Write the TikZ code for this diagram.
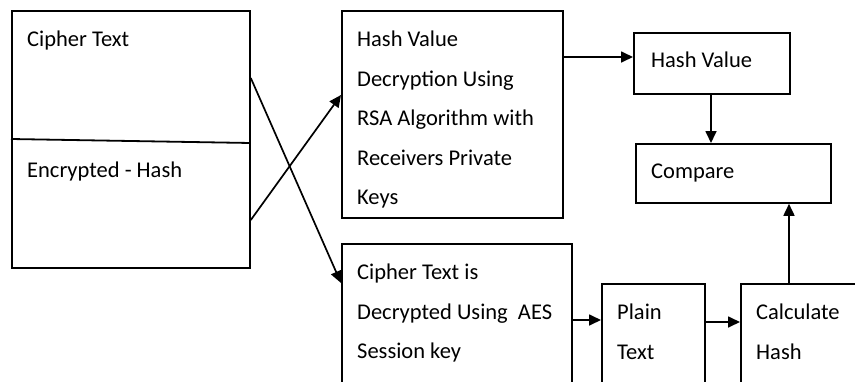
\documentclass[tikz,border=0pt]{standalone}
\usepackage{fontspec}
\setmainfont{Carlito}
\usetikzlibrary{arrows.meta}

\tikzset{
  box/.style={draw, line width=1.8pt, rectangle, anchor=north west, inner sep=0pt},
  lbl/.style={anchor=north west, inner sep=0pt, align=left, font=\fontsize{22.5}{39.5}\selectfont},
  flow/.style={line width=1.7pt, -{Triangle[length=12pt,width=11pt]}}
}

\begin{document}
\begin{tikzpicture}[x=1pt,y=-1pt]
  \useasboundingbox (0,0) rectangle (855,381);
  \clip (0,0) rectangle (855,381);

  \node[box, minimum width=238pt, minimum height=257pt] (pkg) at (11,10) {};
  \node[box, minimum width=221pt, minimum height=207pt] (rsa) at (341,10) {};
  \node[box, minimum width=156pt, minimum height=61pt] (hval) at (633,32) {};
  \node[box, minimum width=195pt, minimum height=59pt] (cmp) at (635,143) {};
  \node[box, minimum width=230pt, minimum height=170pt] (aes) at (341,243) {};
  \node[box, minimum width=103pt, minimum height=130pt] (plain) at (601,283) {};
  \node[box, minimum width=140pt, minimum height=130pt] (calc) at (740,283) {};

  \draw[line width=1.8pt] ([yshift=-129pt]pkg.north west) -- ([yshift=-133pt]pkg.north east);

  \node[lbl] (ctxt) at ([shift={(16,21)}]pkg.north west) {Cipher Text};
  \node[lbl] (ehash) at ([shift={(16,152)}]pkg.north west) {Encrypted - Hash};
  \node[lbl] (rsatxt) at ([shift={(16,21)}]rsa.north west) {Hash Value\\Decryption Using\\RSA Algorithm with\\Receivers Private\\Keys};
  \node[lbl] (hvtxt) at ([shift={(18,20)}]hval.north west) {Hash Value};
  \node[lbl] (cmptxt) at ([shift={(16,21)}]cmp.north west) {Compare};
  \node[lbl] (aestxt) at ([shift={(16,21)}]aes.north west) {Cipher Text is\\Decrypted Using~ AES\\Session key};
  \node[lbl] (pltxt) at ([shift={(16,21)}]plain.north west) {Plain\\Text};
  \node[lbl] (calctxt) at ([shift={(16,21)}]calc.north west) {Calculate\\Hash};

  \draw[flow] ([yshift=-68pt]pkg.north east) -- ([yshift=-40pt]aes.north west);
  \draw[flow] ([yshift=-210pt]pkg.north east) -- ([yshift=-85pt]rsa.north west);
  \draw[flow] ([yshift=-47pt]rsa.north east) -- ([yshift=-25pt]hval.north west);
  \draw[flow] ([xshift=78pt]hval.north west |- hval.south) -- ([xshift=78pt]hval.north west |- cmp.north);
  \draw[flow] ([xshift=49pt]calc.north west) -- ([xshift=49pt]calc.north west |- cmp.south);
  \draw[flow] ([yshift=-77pt]aes.north east) -- ([yshift=-37pt]plain.north west);
  \draw[flow] ([yshift=-39pt]plain.north east) -- ([yshift=-39pt]calc.north west);
\end{tikzpicture}
\end{document}
